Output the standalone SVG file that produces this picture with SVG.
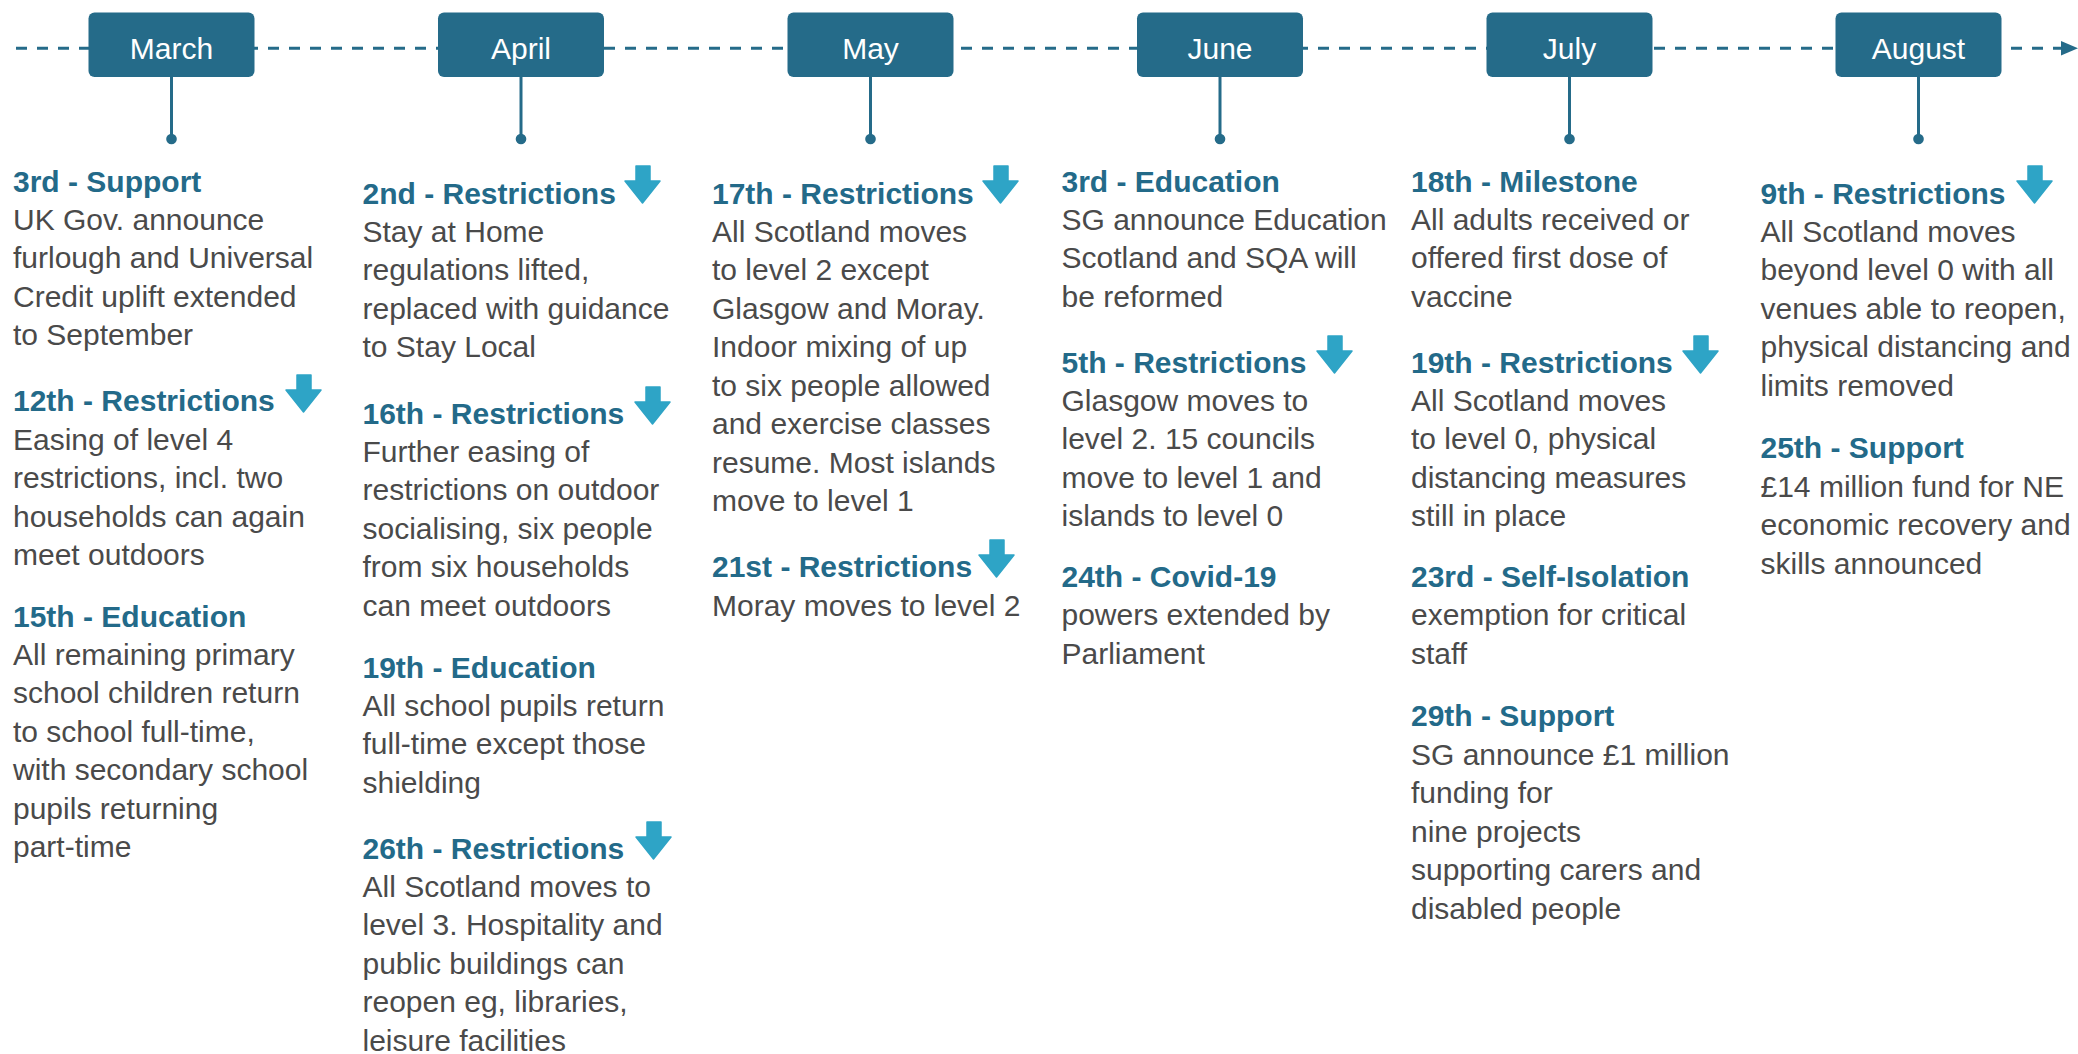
<svg xmlns="http://www.w3.org/2000/svg" width="2078" height="1054" viewBox="0 0 2078 1054">
<style>
.bg{fill:#ffffff}
.box{fill:#256b89}
.mtxt{font-family:"Liberation Sans",Arial,sans-serif;font-size:30px;fill:#ffffff;text-anchor:middle}
.hd{font-family:"Liberation Sans",Arial,sans-serif;font-size:30px;font-weight:bold;fill:#236a89}
.bd{font-family:"Liberation Sans",Arial,sans-serif;font-size:30px;fill:#4a4a4a}
.dash{stroke:#256b89;stroke-width:3;stroke-dasharray:11 10;fill:none}
.stem{stroke:#256b89;stroke-width:3;fill:none}
.dot{fill:#256b89}
.dn{fill:#2ea4c6;stroke:#2ea4c6;stroke-width:1.5;stroke-linejoin:round}
</style>
<defs>
<path id="down" d="M11,0 H25 V15 H35 L17.5,37 L0,15 H11 Z"/>
</defs>
<rect class="bg" x="0" y="0" width="2078" height="1054"/>

<g id="connectors">
<line class="dash" x1="16" y1="48.3" x2="2066" y2="48.3"/>
<polygon class="dot" points="2061,41 2078,48.3 2061,55.6"/>
<line class="stem" x1="171.5" y1="77" x2="171.5" y2="139"/>
<circle class="dot" cx="171.5" cy="139" r="5.3"/>
<line class="stem" x1="521" y1="77" x2="521" y2="139"/>
<circle class="dot" cx="521" cy="139" r="5.3"/>
<line class="stem" x1="870.5" y1="77" x2="870.5" y2="139"/>
<circle class="dot" cx="870.5" cy="139" r="5.3"/>
<line class="stem" x1="1220" y1="77" x2="1220" y2="139"/>
<circle class="dot" cx="1220" cy="139" r="5.3"/>
<line class="stem" x1="1569.5" y1="77" x2="1569.5" y2="139"/>
<circle class="dot" cx="1569.5" cy="139" r="5.3"/>
<line class="stem" x1="1918.5" y1="77" x2="1918.5" y2="139"/>
<circle class="dot" cx="1918.5" cy="139" r="5.3"/>
</g>

<g id="month-march"><rect class="box" x="88.5" y="12.5" width="166" height="64.5" rx="6"/><text class="mtxt" x="171.5" y="58.5">March</text></g>
<g id="month-april"><rect class="box" x="438" y="12.5" width="166" height="64.5" rx="6"/><text class="mtxt" x="521" y="58.5">April</text></g>
<g id="month-may"><rect class="box" x="787.5" y="12.5" width="166" height="64.5" rx="6"/><text class="mtxt" x="870.5" y="58.5">May</text></g>
<g id="month-june"><rect class="box" x="1137" y="12.5" width="166" height="64.5" rx="6"/><text class="mtxt" x="1220" y="58.5">June</text></g>
<g id="month-july"><rect class="box" x="1486.5" y="12.5" width="166" height="64.5" rx="6"/><text class="mtxt" x="1569.5" y="58.5">July</text></g>
<g id="month-august"><rect class="box" x="1835.5" y="12.5" width="166" height="64.5" rx="6"/><text class="mtxt" x="1918.5" y="58.5">August</text></g>

<g id="march-events">
<text class="hd" x="13" y="192">3rd - Support</text>
<text class="bd"><tspan x="13" y="229.5">UK Gov. announce</tspan><tspan x="13" y="268">furlough and Universal</tspan><tspan x="13" y="306.5">Credit uplift extended</tspan><tspan x="13" y="345">to September</tspan></text>
<text class="hd" x="13" y="411">12th - Restrictions</text>
<use href="#down" class="dn" x="286" y="375"/>
<text class="bd"><tspan x="13" y="449.5">Easing of level 4</tspan><tspan x="13" y="488">restrictions, incl. two</tspan><tspan x="13" y="526.5">households can again</tspan><tspan x="13" y="565">meet outdoors</tspan></text>
<text class="hd" x="13" y="627">15th - Education</text>
<text class="bd"><tspan x="13" y="664.5">All remaining primary</tspan><tspan x="13" y="703">school children return</tspan><tspan x="13" y="741.5">to school full-time,</tspan><tspan x="13" y="780">with secondary school</tspan><tspan x="13" y="818.5">pupils returning</tspan><tspan x="13" y="857">part-time</tspan></text>
</g>

<g id="april-events">
<text class="hd" x="362.5" y="203.5">2nd - Restrictions</text>
<use href="#down" class="dn" x="625" y="166"/>
<text class="bd"><tspan x="362.5" y="241.5">Stay at Home</tspan><tspan x="362.5" y="280">regulations lifted,</tspan><tspan x="362.5" y="318.5">replaced with guidance</tspan><tspan x="362.5" y="357">to Stay Local</tspan></text>
<text class="hd" x="362.5" y="423.5">16th - Restrictions</text>
<use href="#down" class="dn" x="635" y="387"/>
<text class="bd"><tspan x="362.5" y="461.5">Further easing of</tspan><tspan x="362.5" y="500">restrictions on outdoor</tspan><tspan x="362.5" y="538.5">socialising, six people</tspan><tspan x="362.5" y="577">from six households</tspan><tspan x="362.5" y="615.5">can meet outdoors</tspan></text>
<text class="hd" x="362.5" y="677.5">19th - Education</text>
<text class="bd"><tspan x="362.5" y="715.5">All school pupils return</tspan><tspan x="362.5" y="754">full-time except those</tspan><tspan x="362.5" y="792.5">shielding</tspan></text>
<text class="hd" x="362.5" y="858.5">26th - Restrictions</text>
<use href="#down" class="dn" x="636" y="822"/>
<text class="bd"><tspan x="362.5" y="896.5">All Scotland moves to</tspan><tspan x="362.5" y="935">level 3. Hospitality and</tspan><tspan x="362.5" y="973.5">public buildings can</tspan><tspan x="362.5" y="1012">reopen eg, libraries,</tspan><tspan x="362.5" y="1050.5">leisure facilities</tspan></text>
</g>

<g id="may-events">
<text class="hd" x="712" y="203.5">17th - Restrictions</text>
<use href="#down" class="dn" x="983" y="166"/>
<text class="bd"><tspan x="712" y="241.5">All Scotland moves</tspan><tspan x="712" y="280">to level 2 except</tspan><tspan x="712" y="318.5">Glasgow and Moray.</tspan><tspan x="712" y="357">Indoor mixing of up</tspan><tspan x="712" y="395.5">to six people allowed</tspan><tspan x="712" y="434">and exercise classes</tspan><tspan x="712" y="472.5">resume. Most islands</tspan><tspan x="712" y="511">move to level 1</tspan></text>
<text class="hd" x="712" y="577">21st - Restrictions</text>
<use href="#down" class="dn" x="979" y="540"/>
<text class="bd"><tspan x="712" y="615.5">Moray moves to level 2</tspan></text>
</g>

<g id="june-events">
<text class="hd" x="1061.5" y="192">3rd - Education</text>
<text class="bd"><tspan x="1061.5" y="229.5">SG announce Education</tspan><tspan x="1061.5" y="268">Scotland and SQA will</tspan><tspan x="1061.5" y="306.5">be reformed</tspan></text>
<text class="hd" x="1061.5" y="372.5">5th - Restrictions</text>
<use href="#down" class="dn" x="1317" y="336"/>
<text class="bd"><tspan x="1061.5" y="410.5">Glasgow moves to</tspan><tspan x="1061.5" y="449">level 2. 15 councils</tspan><tspan x="1061.5" y="487.5">move to level 1 and</tspan><tspan x="1061.5" y="526">islands to level 0</tspan></text>
<text class="hd" x="1061.5" y="587">24th - Covid-19</text>
<text class="bd"><tspan x="1061.5" y="625">powers extended by</tspan><tspan x="1061.5" y="663.5">Parliament</tspan></text>
</g>

<g id="july-events">
<text class="hd" x="1411" y="192">18th - Milestone</text>
<text class="bd"><tspan x="1411" y="229.5">All adults received or</tspan><tspan x="1411" y="268">offered first dose of</tspan><tspan x="1411" y="306.5">vaccine</tspan></text>
<text class="hd" x="1411" y="372.5">19th - Restrictions</text>
<use href="#down" class="dn" x="1683" y="336"/>
<text class="bd"><tspan x="1411" y="410.5">All Scotland moves</tspan><tspan x="1411" y="449">to level 0, physical</tspan><tspan x="1411" y="487.5">distancing measures</tspan><tspan x="1411" y="526">still in place</tspan></text>
<text class="hd" x="1411" y="587">23rd - Self-Isolation</text>
<text class="bd"><tspan x="1411" y="625">exemption for critical</tspan><tspan x="1411" y="663.5">staff</tspan></text>
<text class="hd" x="1411" y="726">29th - Support</text>
<text class="bd"><tspan x="1411" y="764.5">SG announce £1 million</tspan><tspan x="1411" y="803">funding for</tspan><tspan x="1411" y="841.5">nine projects</tspan><tspan x="1411" y="880">supporting carers and</tspan><tspan x="1411" y="918.5">disabled people</tspan></text>
</g>

<g id="august-events">
<text class="hd" x="1760.5" y="203.5">9th - Restrictions</text>
<use href="#down" class="dn" x="2017" y="166"/>
<text class="bd"><tspan x="1760.5" y="241.5">All Scotland moves</tspan><tspan x="1760.5" y="280">beyond level 0 with all</tspan><tspan x="1760.5" y="318.5">venues able to reopen,</tspan><tspan x="1760.5" y="357">physical distancing and</tspan><tspan x="1760.5" y="395.5">limits removed</tspan></text>
<text class="hd" x="1760.5" y="458">25th - Support</text>
<text class="bd"><tspan x="1760.5" y="496.5">£14 million fund for NE</tspan><tspan x="1760.5" y="535">economic recovery and</tspan><tspan x="1760.5" y="573.5">skills announced</tspan></text>
</g>
</svg>
